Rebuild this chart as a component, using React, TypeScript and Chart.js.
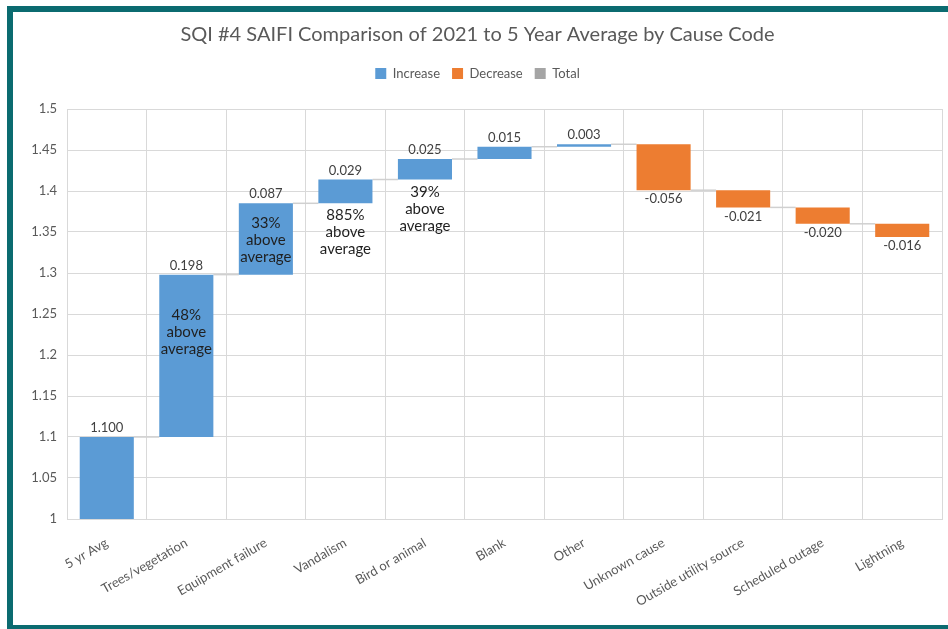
import React, { useEffect, useRef } from "react";
import { Chart, registerables } from "chart.js";

Chart.register(...registerables);

const categories = [
  "5 yr Avg",
  "Trees/vegetation",
  "Equipment failure",
  "Vandalism",
  "Bird or animal",
  "Blank",
  "Other",
  "Unknown cause",
  "Outside utility source",
  "Scheduled outage",
  "Lightning",
];
const changes = [1.1, 0.198, 0.087, 0.029, 0.025, 0.015, 0.003, -0.056, -0.021, -0.02, -0.016];
const axisStart = 1.0;
const axisMin = 1.0;
const axisMax = 1.5;
const axisStep = 0.05;
const noteTexts = ["", "48%|above|average", "33%|above|average", "885%|above|average", "39%|above|average", "", "", "", "", "", ""];
const noteLevels: (number | null)[] = [null, 1.249, 1.361, 1.371, 1.399, null, null, null, null, null, null];
const legendNames = ["Increase", "Decrease", "Total"];

const BLUE = "#5b9bd5";
const ORANGE = "#ed7d31";
const GRAY = "#a5a5a5";
const FONT = "Lato, 'Open Sans', sans-serif";

function buildBars() {
  const bars: [number, number][] = [];
  const ends: number[] = [];
  let cum = 0;
  changes.forEach((d, i) => {
    if (i === 0) {
      bars.push([axisStart, d]);
      cum = d;
    } else {
      bars.push([cum, cum + d]);
      cum = cum + d;
    }
    ends.push(cum);
  });
  return { bars, ends };
}

export default function App() {
  const ref = useRef<HTMLCanvasElement | null>(null);
  useEffect(() => {
    if (!ref.current) return;
    const { bars, ends } = buildBars();
    const colors = changes.map((d) => (d >= 0 ? BLUE : ORANGE));

    const legendGap = {
      id: "legendGap",
      beforeInit(chart: any) {
        const lg = chart.legend;
        if (!lg) return;
        const orig = lg.fit;
        lg.fit = function () {
          orig.call(this);
          this.height += 19;
        };
      },
    };

    const extras = {
      id: "waterfallExtras",
      beforeDatasetsDraw(chart: any) {
        const ctx = chart.ctx;
        const meta = chart.getDatasetMeta(0);
        const ys = chart.scales.y;
        ctx.save();
        ctx.strokeStyle = "#d0d0d0";
        ctx.lineWidth = 1.5;
        for (let i = 0; i < meta.data.length - 1; i++) {
          const a = meta.data[i] as any;
          const b = meta.data[i + 1] as any;
          const y = ys.getPixelForValue(ends[i]);
          ctx.beginPath();
          ctx.moveTo(a.x + a.width / 2, y);
          ctx.lineTo(b.x - b.width / 2, y);
          ctx.stroke();
        }
        ctx.restore();
      },
      afterDatasetsDraw(chart: any) {
        const ctx = chart.ctx;
        const meta = chart.getDatasetMeta(0);
        const ys = chart.scales.y;
        ctx.save();
        ctx.textAlign = "center";
        ctx.textBaseline = "middle";
        ctx.font = `13px ${FONT}`;
        ctx.fillStyle = "#404040";
        meta.data.forEach((el: any, i: number) => {
          const top = Math.min(el.y, el.base);
          const bottom = Math.max(el.y, el.base);
          const txt = changes[i].toFixed(3);
          if (changes[i] >= 0) ctx.fillText(txt, el.x, top - 9);
          else ctx.fillText(txt, el.x, bottom + 9);
        });
        ctx.font = `15px ${FONT}`;
        ctx.fillStyle = "#1f1f1f";
        meta.data.forEach((el: any, i: number) => {
          const lvl = noteLevels[i];
          if (lvl == null || !noteTexts[i]) return;
          const y0 = ys.getPixelForValue(lvl);
          noteTexts[i].split("|").forEach((line, k) => {
            ctx.fillText(line, el.x, y0 + k * 17);
          });
        });
        ctx.restore();
      },
    };

    const chart = new Chart(ref.current, {
      type: "bar",
      data: {
        labels: categories,
        datasets: [
          {
            label: "SAIFI",
            data: bars as any,
            backgroundColor: colors,
            borderWidth: 0,
            barPercentage: 0.68,
            categoryPercentage: 1,
          },
        ],
      },
      options: {
        responsive: false,
        animation: false,
        layout: { padding: { left: 0, right: 6, top: 0, bottom: 0 } },
        plugins: {
          title: {
            display: true,
            text: "SQI #4 SAIFI Comparison of 2021 to 5 Year Average by Cause Code",
            color: "#595959",
            font: { family: FONT, size: 20, weight: "normal" },
            padding: { top: 11, bottom: 8 },
          },
          legend: {
            display: true,
            labels: {
              color: "#595959",
              font: { family: FONT, size: 13 },
              boxWidth: 11,
              boxHeight: 11,
              padding: 12,
              generateLabels: () =>
                legendNames.map((n, i) => ({
                  text: n,
                  fillStyle: [BLUE, ORANGE, GRAY][i],
                  strokeStyle: [BLUE, ORANGE, GRAY][i],
                  lineWidth: 0,
                  hidden: false,
                  datasetIndex: 0,
                  fontColor: "#595959",
                })),
            },
            onClick: () => {},
          },
          tooltip: { enabled: false },
        },
        scales: {
          x: {
            grid: { color: "#d9d9d9", lineWidth: 1, offset: true, drawTicks: false },
            border: { color: "#d9d9d9" },
            ticks: {
              color: "#595959",
              font: { family: FONT, size: 13 },
              minRotation: 30,
              maxRotation: 30,
              padding: 16,
              autoSkip: false,
            },
            afterFit: (s: any) => {
              s.height = 106;
            },
          },
          y: {
            min: axisMin,
            max: axisMax,
            grid: { color: "#d9d9d9", lineWidth: 1, drawTicks: false },
            border: { color: "#d9d9d9" },
            ticks: {
              stepSize: axisStep,
              color: "#595959",
              font: { family: FONT, size: 13 },
              padding: 10,
              callback: (v: any) => String(Number(Number(v).toFixed(2))),
            },
            afterFit: (s: any) => {
              s.width = 54;
            },
          },
        },
      },
      plugins: [legendGap, extras],
    });
    return () => chart.destroy();
  }, []);

  return (
    <div style={{ position: "fixed", left: 0, top: 0, width: 948, height: 629, background: "#fff", overflow: "hidden" }}>
      <div style={{ position: "absolute", left: 7, top: 6, width: 960, height: 6, background: "#0b6b70" }} />
      <div style={{ position: "absolute", left: 7, top: 6, width: 6, height: 640, background: "#0b6b70" }} />
      <div style={{ position: "absolute", left: 7, top: 625, width: 960, height: 6, background: "#0b6b70" }} />
      <canvas ref={ref} width={935} height={613} style={{ position: "absolute", left: 13, top: 12 }} />
    </div>
  );
}
